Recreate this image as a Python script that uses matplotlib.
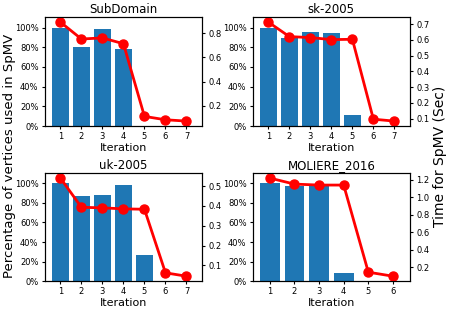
import matplotlib
matplotlib.use('Agg')
import matplotlib.pyplot as plt
from matplotlib.ticker import PercentFormatter

# fraction of vertices used per iteration (bars) and SpMV time (line)
names = ['SubDomain', 'sk-2005', 'uk-2005', 'MOLIERE_2016']
iters = {
    'SubDomain': [1, 2, 3, 4, 5, 6, 7],
    'sk-2005': [1, 2, 3, 4, 5, 6, 7],
    'uk-2005': [1, 2, 3, 4, 5, 6, 7],
    'MOLIERE_2016': [1, 2, 3, 4, 5, 6],
}
pct_used = {
    'SubDomain': [1.0, 0.80, 0.986, 0.786, 0.0, 0.0, 0.0],
    'sk-2005': [1.0, 0.895, 0.958, 0.946, 0.112, 0.0, 0.0],
    'uk-2005': [1.0, 0.874, 0.884, 0.986, 0.272, 0.0, 0.0],
    'MOLIERE_2016': [1.0, 0.972, 0.975, 0.085, 0.005, 0.0],
}
spmv_time = {
    'SubDomain': [0.892, 0.752, 0.761, 0.713, 0.111, 0.083, 0.072],
    'sk-2005': [0.713, 0.621, 0.615, 0.602, 0.604, 0.097, 0.085],
    'uk-2005': [0.540, 0.393, 0.390, 0.385, 0.383, 0.063, 0.046],
    'MOLIERE_2016': [1.219, 1.150, 1.139, 1.139, 0.143, 0.097],
}
time_ticks = {
    'SubDomain': [0.2, 0.4, 0.6, 0.8],
    'sk-2005': [0.1, 0.2, 0.3, 0.4, 0.5, 0.6, 0.7],
    'uk-2005': [0.1, 0.2, 0.3, 0.4, 0.5],
    'MOLIERE_2016': [0.2, 0.4, 0.6, 0.8, 1.0, 1.2],
}

fig = plt.figure(figsize=(4.53, 3.12), dpi=100)
positions = [
    [0.099, 0.596, 0.347, 0.349],
    [0.558, 0.596, 0.347, 0.349],
    [0.099, 0.099, 0.347, 0.346],
    [0.558, 0.099, 0.347, 0.346],
]

for name, pos in zip(names, positions):
    ax = fig.add_axes(pos)
    x = iters[name]
    ax.bar(x, pct_used[name], width=0.8, color='#1f77b4')
    ax.set_ylim(0, 1.105)
    ax.yaxis.set_major_formatter(PercentFormatter(1.0, decimals=0))
    ax.set_yticks([0, 0.2, 0.4, 0.6, 0.8, 1.0])
    ax.set_xticks(x)
    ax.tick_params(labelsize=6, length=2.5, pad=2)
    ax.set_xlabel('Iteration', fontsize=8, labelpad=1)
    ax.set_title(name, fontsize=8.5, pad=3)

    ax2 = ax.twinx()
    ax2.plot(x, spmv_time[name], color='red', lw=2, marker='o', markersize=6.5)
    ax2.set_yticks(time_ticks[name])
    ax2.tick_params(labelsize=6, length=2.5, pad=2)

fig.text(0.02, 0.5, 'Percentage of vertices used in SpMV', rotation=90,
         ha='center', va='center', fontsize=9.5)
fig.text(0.972, 0.5, 'Time for SpMV (Sec)', rotation=90,
         ha='center', va='center', fontsize=10)

fig.savefig('out.png', dpi=100)
